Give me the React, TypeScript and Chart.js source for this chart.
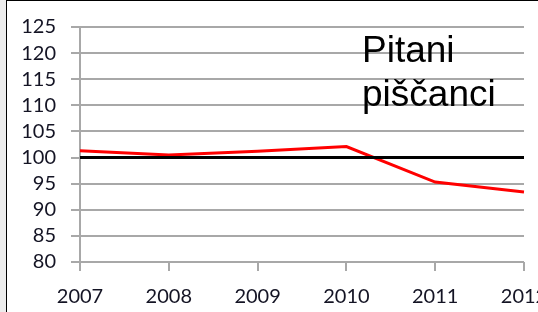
import React, { useEffect, useRef } from "react";
import { Chart, registerables } from "chart.js";

Chart.register(...registerables);

const years = ["2007", "2008", "2009", "2010", "2011", "2012"];
const pitaniPiscanci = [101.3, 100.5, 101.2, 102.1, 95.3, 93.4];
const baseline = [100, 100, 100, 100, 100, 100];
const yMin = 80;
const yMax = 125;
const yStep = 5;
const titleLines = ["Pitani", "piščanci"];

export default function App() {
  const ref = useRef<HTMLCanvasElement>(null);

  useEffect(() => {
    if (!ref.current) return;
    const chart = new Chart(ref.current, {
      type: "line",
      data: {
        labels: years,
        datasets: [
          {
            data: baseline,
            borderColor: "#000000",
            borderWidth: 3,
            pointRadius: 0,
            tension: 0,
          },
          {
            data: pitaniPiscanci,
            borderColor: "#ff0000",
            borderWidth: 3,
            pointRadius: 0,
            tension: 0,
          },
        ],
      },
      options: {
        responsive: false,
        animation: false,
        devicePixelRatio: 1,
        layout: { padding: { left: 0, right: 46, top: 27, bottom: 0 } },
        plugins: { legend: { display: false }, tooltip: { enabled: false }, title: { display: false } },
        scales: {
          x: {
            type: "category",
            offset: false,
            grid: {
              drawOnChartArea: false,
              drawTicks: true,
              tickLength: 9,
              color: "#a8a8a8",
              lineWidth: 2,
            },
            border: { display: false },
            ticks: {
              autoSkip: false,
              maxRotation: 0,
              minRotation: 0,
              padding: 14,
              color: "#141424",
              font: { family: "Lato", size: 20 },
            },
            afterFit: (s: any) => {
              s.height = 50;
            },
          },
          y: {
            min: yMin,
            max: yMax,
            grid: {
              drawTicks: true,
              tickLength: 9,
              color: "#a8a8a8",
              lineWidth: 2,
            },
            border: { display: true, color: "#a8a8a8", width: 2 },
            ticks: {
              stepSize: yStep,
              autoSkip: false,
              padding: 15,
              color: "#141424",
              font: { family: "Lato", size: 20 },
            },
            afterFit: (s: any) => {
              s.width = 80;
            },
          },
        },
      },
    });
    return () => chart.destroy();
  }, []);

  return (
    <div
      style={{
        position: "fixed",
        left: 0,
        top: 0,
        width: 538,
        height: 312,
        overflow: "hidden",
        background: "#ffffff",
      }}
    >
      <div style={{ position: "absolute", left: 0, top: 0, width: 6, height: 312, background: "#ececec" }} />
      <div
        style={{
          position: "absolute",
          left: 6,
          top: 0,
          width: 540,
          height: 320,
          borderLeft: "1px solid #000",
          borderTop: "1px solid #000",
        }}
      />
      <canvas
        ref={ref}
        width={570}
        height={312}
        style={{ position: "absolute", left: 0, top: 0, width: 570, height: 312 }}
      />
      <div
        style={{
          position: "absolute",
          left: 362,
          top: 28,
          fontFamily: "'Liberation Sans', Arial, sans-serif",
          fontSize: 37,
          lineHeight: "44px",
          color: "#000",
        }}
      >
        {titleLines.map((t) => (
          <div key={t}>{t}</div>
        ))}
      </div>
    </div>
  );
}
